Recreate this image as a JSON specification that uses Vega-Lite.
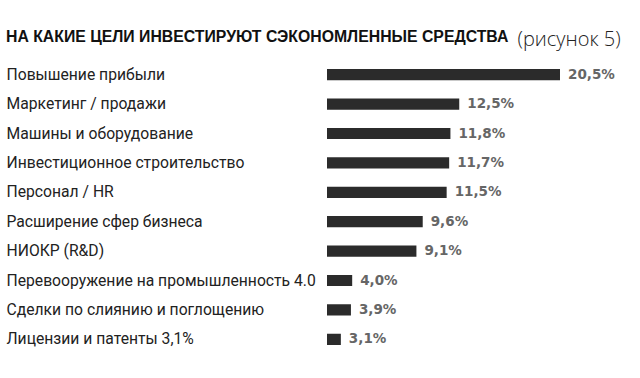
{
  "$schema": "https://vega.github.io/schema/vega-lite/v6.json",
  "width": 233,
  "height": 294,
  "autosize": {"type": "none"},
  "padding": {"left": 327, "top": 60, "right": 80, "bottom": 24},
  "background": "white",
  "title": {
    "text": "НА КАКИЕ ЦЕЛИ ИНВЕСТИРУЮТ СЭКОНОМЛЕННЫЕ СРЕДСТВА",
    "anchor": "start",
    "frame": "bounds",
    "font": "Liberation Sans",
    "fontSize": 15.8,
    "fontWeight": 900,
    "color": "#111111",
    "baseline": "alphabetic",
    "offset": 16,
    "dy": 45
  },
  "data": {
    "values": [
      {"category": "Повышение прибыли", "value": 20.5, "label": "20,5%"},
      {"category": "Маркетинг / продажи", "value": 12.5, "label": "12,5%"},
      {"category": "Машины и оборудование", "value": 11.8, "label": "11,8%"},
      {"category": "Инвестиционное строительство", "value": 11.7, "label": "11,7%"},
      {"category": "Персонал / HR", "value": 11.5, "label": "11,5%"},
      {"category": "Расширение сфер бизнеса", "value": 9.6, "label": "9,6%"},
      {"category": "НИОКР (R&D)", "value": 9.1, "label": "9,1%"},
      {"category": "Перевооружение на промышленность 4.0", "value": 4.0, "label": "4,0%"},
      {"category": "Сделки по слиянию и поглощению", "value": 3.9, "label": "3,9%"},
      {"category": "Лицензии и патенты 3,1%", "value": 3.1, "label": "3,1%"}
    ]
  },
  "encoding": {
    "y": {
      "field": "category",
      "type": "nominal",
      "sort": null,
      "scale": {"paddingInner": 0.62, "paddingOuter": 0.31},
      "axis": {
        "title": null,
        "domain": false,
        "ticks": false,
        "labelAlign": "left",
        "labelPadding": 321,
        "labelLimit": 330,
        "labelFont": "Roboto",
        "labelFontSize": 15.7,
        "labelColor": "#222222"
      }
    },
    "x": {
      "field": "value",
      "type": "quantitative",
      "scale": {"domain": [2, 20.5], "nice": false, "zero": false},
      "axis": {
        "orient": "top",
        "title": "(рисунок 5)",
        "labels": false,
        "ticks": false,
        "domain": false,
        "grid": false,
        "titleX": 190,
        "titleY": -15,
        "titleAlign": "left",
        "titleAnchor": "start",
        "titleBaseline": "alphabetic",
        "titleFont": "Open Sans",
        "titleFontWeight": 300,
        "titleFontSize": 20,
        "titleColor": "#222222"
      }
    }
  },
  "layer": [
    {"mark": {"type": "bar", "color": "#2b2b2b", "clip": true}},
    {
      "mark": {"type": "text", "align": "left", "dx": 8, "font": "DejaVu Sans", "fontSize": 13.5, "fontWeight": "bold", "color": "#666666"},
      "encoding": {"text": {"field": "label"}}
    }
  ],
  "config": {"view": {"stroke": null}}
}
